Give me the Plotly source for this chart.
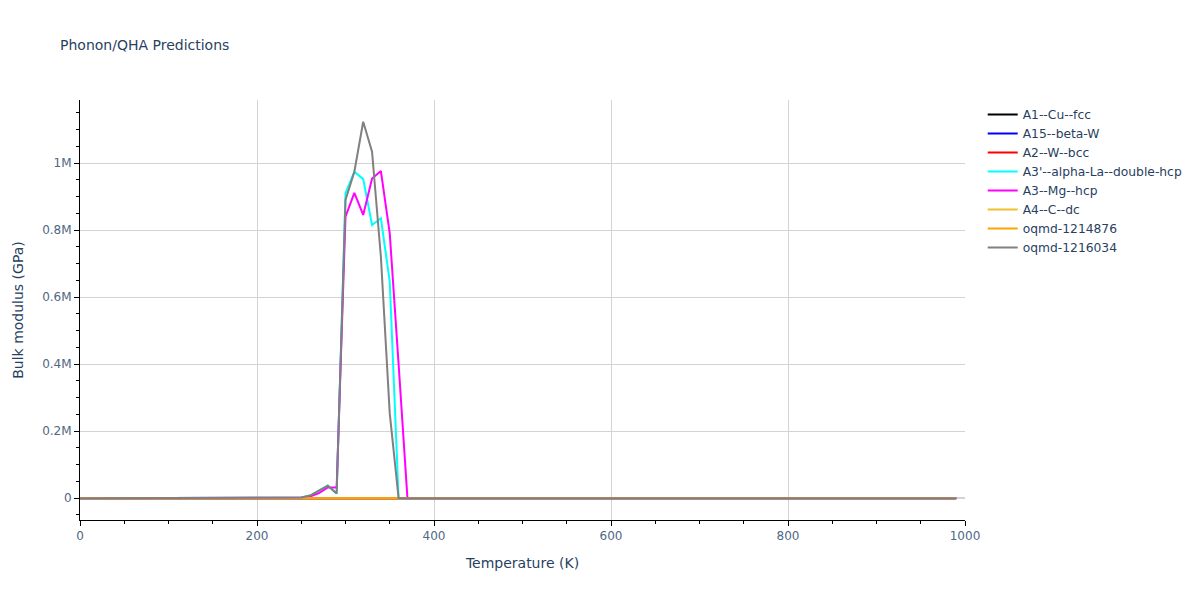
import plotly.graph_objects as go

temperatures = list(range(0, 1000, 10))

series_names = [
    "A1--Cu--fcc",
    "A15--beta-W",
    "A2--W--bcc",
    "A3'--alpha-La--double-hcp",
    "A3--Mg--hcp",
    "A4--C--dc",
    "oqmd-1214876",
    "oqmd-1216034",
]
series_colors = ["black", "blue", "red", "cyan", "magenta", "#EEC02E", "orange", "gray"]

# low-temperature part (0..240 K) is essentially flat near zero
low_gray = [0, 20, 40, 60, 80, 100, 120, 140, 160, 180, 200, 220, 240,
            260, 280, 300, 320, 340, 360, 380, 400, 450, 500, 600, 800]
low_cyan = list(low_gray)
low_mag = [0, 20, 40, 60, 80, 100, 120, 140, 160, 180, 200, 220, 240,
           260, 280, 300, 320, 340, 360, 380, 400, 450, 500, 550, 700]

# 250..370 K
mid_gray = [2000, 8000, 22000, 37000, 14000, 890000, 974000, 1123000, 1034000,
            720000, 253000, 0, 0]
mid_cyan = [2000, 8000, 22000, 38000, 14000, 910000, 974000, 952000, 815000,
            835000, 646000, 0, 0]
mid_mag = [1500, 5000, 15000, 32000, 32000, 840000, 911000, 845000, 954000,
           976000, 790000, 400000, 0]

n_high = len(temperatures) - len(low_gray) - len(mid_gray)
zeros_high = [0] * n_high

bulk_gray = low_gray + mid_gray + zeros_high
bulk_cyan = low_cyan + mid_cyan + zeros_high
bulk_mag = low_mag + mid_mag + zeros_high
bulk_zero = [0] * len(temperatures)

series_values = [bulk_zero, bulk_zero, bulk_zero, bulk_cyan, bulk_mag,
                 bulk_zero, bulk_zero, bulk_gray]

fig = go.Figure()
for name, color, vals in zip(series_names, series_colors, series_values):
    fig.add_trace(go.Scatter(x=temperatures, y=vals, mode="lines", name=name,
                             line=dict(color=color, width=2)))

axis_common = dict(
    showline=True, linecolor="black", linewidth=1,
    ticks="outside", tickcolor="black",
    showgrid=True, gridcolor="lightgray",
    zeroline=True, zerolinecolor="lightgray",
    automargin=False,
)

fig.update_layout(
    width=1200, height=600,
    margin=dict(l=80, r=80, t=100, b=80),
    title=dict(text="Phonon/QHA Predictions", font=dict(size=14), x=0.05),
    plot_bgcolor="white", paper_bgcolor="white",
    font=dict(family="Verdana, DejaVu Sans, sans-serif", color="#2a3f5f", size=12),
    legend=dict(font=dict(size=12.3)),
    xaxis=dict(title="Temperature (K)", range=[0, 1000], dtick=200,
               tickfont=dict(color="#506784"),
               minor=dict(ticks="outside", dtick=50, tickcolor="black", showgrid=False),
               **axis_common),
    yaxis=dict(title="Bulk modulus (GPa)", range=[-65000, 1188000], dtick=200000,
               tickfont=dict(color="#506784"),
               minor=dict(ticks="outside", dtick=50000, tickcolor="black", showgrid=False),
               **axis_common),
)

fig.write_html("out.html", config={"displayModeBar": False},
               post_script="document.body.style.margin='0';")
